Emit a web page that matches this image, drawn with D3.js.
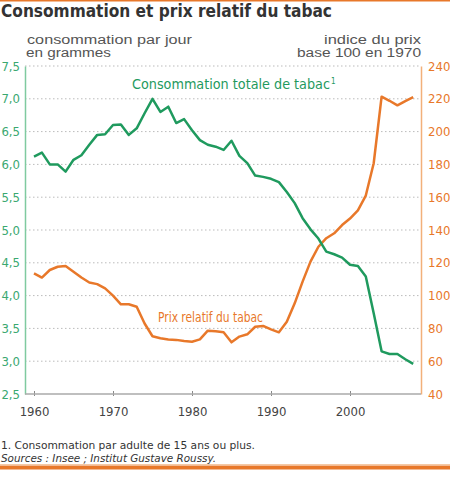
<!DOCTYPE html>
<html><head><meta charset="utf-8">
<script src="https://cdn.jsdelivr.net/npm/d3@7"></script>
<style>html,body{margin:0;padding:0;background:#fff;}svg{display:block;}</style>
</head><body>
<svg id="c" width="450" height="479"></svg>
<script>
const years = d3.range(1960, 2009);
const consommation = [6.12,6.18,6.0,6.0,5.89,6.07,6.14,6.3,6.45,6.46,6.6,6.61,6.45,6.55,6.78,7.0,
  6.8,6.88,6.63,6.69,6.52,6.37,6.3,6.27,6.22,6.36,6.13,6.02,5.83,5.81,5.78,5.73,5.58,5.41,5.18,
  5.01,4.87,4.67,4.63,4.58,4.47,4.45,4.29,3.73,3.15,3.11,3.11,3.03,2.96];
const prix = [113.6,111,115.6,117.6,118,114.6,111,108,107,104.4,100,94.7,94.7,93.2,83,75.2,
  74,73.3,73,72.3,71.9,73.3,78.6,78.2,77.6,71.5,75,76.4,81,81.5,79.4,77.6,84,95.3,108.5,
  120.7,129.8,135,138,143,147,152,161,180.7,221.3,218.8,216,218.6,221];
const leftTicks = [2.5,3.0,3.5,4.0,4.5,5.0,5.5,6.0,6.5,7.0,7.5];
const rightTicks = [40,60,80,100,120,140,160,180,200,220,240];
const yearTicks = [1960,1970,1980,1990,2000];

const green = "#1f9a5e", orange = "#e8782a";
const svg = d3.select("#c");
const L = 25, R = 421, T = 66, B = 394;
const x = d3.scaleLinear().domain([1960, 2000]).range([34, 350]);
const yL = d3.scaleLinear().domain([2.5, 7.5]).range([B, T]);
const yR = d3.scaleLinear().domain([40, 240]).range([B, T]);
const font = "'DejaVu Sans Condensed','Liberation Sans Narrow',Arial,sans-serif";
const fmt = d => d3.format(".1f")(d).replace(".", ",");

// top rule
svg.append("rect").attr("x",0).attr("y",0).attr("width",450).attr("height",1.5).attr("fill",orange);
// title
svg.append("text").attr("x",1).attr("y",17).attr("font-family","'DejaVu Sans',sans-serif")
  .attr("font-weight","bold").attr("font-size",17).attr("fill","#333")
  .attr("textLength",331).attr("lengthAdjust","spacingAndGlyphs")
  .text("Consommation et prix relatif du tabac");

// axis titles
const at = svg.append("g").attr("font-family","'Liberation Sans',Arial,sans-serif").attr("font-size",12.5).attr("fill","#555");
at.append("text").attr("x",27).attr("y",44).attr("textLength",165).attr("lengthAdjust","spacingAndGlyphs").text("consommation par jour");
at.append("text").attr("x",26).attr("y",57).attr("textLength",85).attr("lengthAdjust","spacingAndGlyphs").text("en grammes");
at.append("text").attr("x",324).attr("y",44).attr("textLength",97).attr("lengthAdjust","spacingAndGlyphs").text("indice du prix");
at.append("text").attr("x",297).attr("y",57).attr("textLength",124).attr("lengthAdjust","spacingAndGlyphs").text("base 100 en 1970");

// gridlines
svg.append("g").selectAll("line").data(leftTicks.filter(d => d > 2.5)).join("line")
  .attr("x1",L).attr("x2",R).attr("y1",d=>yL(d)).attr("y2",d=>yL(d))
  .attr("stroke","#bbb").attr("stroke-width",1).attr("stroke-dasharray","1.5,2.5");

// axes
const gL = svg.append("g").attr("transform",`translate(${L},0)`)
  .call(d3.axisLeft(yL).tickValues(leftTicks).tickFormat(fmt).tickSize(0).tickPadding(5));
gL.select(".domain").attr("stroke","#7fcaa0").attr("stroke-width",1.5);
gL.selectAll("text").attr("fill","#3aa870").attr("font-family",font).attr("font-size",13);

const gR = svg.append("g").attr("transform",`translate(${R},0)`)
  .call(d3.axisRight(yR).tickValues(rightTicks).tickSize(0).tickPadding(7));
gR.select(".domain").attr("stroke","#f2b07a").attr("stroke-width",1.5);
gR.selectAll("text").attr("fill",orange).attr("font-family",font).attr("font-size",13);

const gB = svg.append("g").attr("transform",`translate(0,${B})`)
  .call(d3.axisBottom(x).tickValues(yearTicks).tickFormat(d3.format("d")).tickSize(3).tickPadding(10));
gB.select(".domain").remove();
gB.append("line").attr("x1",L).attr("x2",R).attr("stroke","#aaa").attr("stroke-width",1.5);
gB.selectAll(".tick line").attr("stroke","#888").attr("transform","translate(0,-3)").attr("y2",5);
gB.selectAll("text").attr("fill","#444").attr("font-family",font).attr("font-size",13);

// lines
const lineP = d3.line().x((d,i)=>x(years[i])).y(d=>yR(d));
const lineC = d3.line().x((d,i)=>x(years[i])).y(d=>yL(d));
svg.append("path").datum(prix).attr("d",lineP).attr("fill","none").attr("stroke",orange)
  .attr("stroke-width",2.5).attr("stroke-linejoin","round");
svg.append("path").datum(consommation).attr("d",lineC).attr("fill","none").attr("stroke",green)
  .attr("stroke-width",2.5).attr("stroke-linejoin","round");

// series labels
const lc = svg.append("text").attr("x",132).attr("y",89).attr("font-family",font).attr("font-size",13.5).attr("fill",green);
lc.append("tspan").attr("textLength",198).attr("lengthAdjust","spacingAndGlyphs").text("Consommation totale de tabac");
lc.append("tspan").attr("dy",-5).attr("dx",1).attr("font-size",8).text("1");
svg.append("text").attr("x",158).attr("y",322).attr("font-family",font).attr("font-size",13.5).attr("fill",orange)
  .attr("textLength",105).attr("lengthAdjust","spacingAndGlyphs")
  .text("Prix relatif du tabac");

// footnotes
svg.append("text").attr("x",1).attr("y",449).attr("font-family",font).attr("font-size",11).attr("fill","#333")
  .attr("textLength",254).attr("lengthAdjust","spacingAndGlyphs")
  .text("1. Consommation par adulte de 15 ans ou plus.");
svg.append("text").attr("x",1).attr("y",462).attr("font-family",font).attr("font-size",11).attr("fill","#333")
  .attr("font-style","italic").attr("textLength",215).attr("lengthAdjust","spacingAndGlyphs")
  .text("Sources : Insee ; Institut Gustave Roussy.");
// bottom band
svg.append("rect").attr("x",0).attr("y",464).attr("width",450).attr("height",1).attr("fill","#f5c9a5");
svg.append("rect").attr("x",0).attr("y",465.5).attr("width",450).attr("height",4).attr("fill",orange);
</script>
</body></html>
